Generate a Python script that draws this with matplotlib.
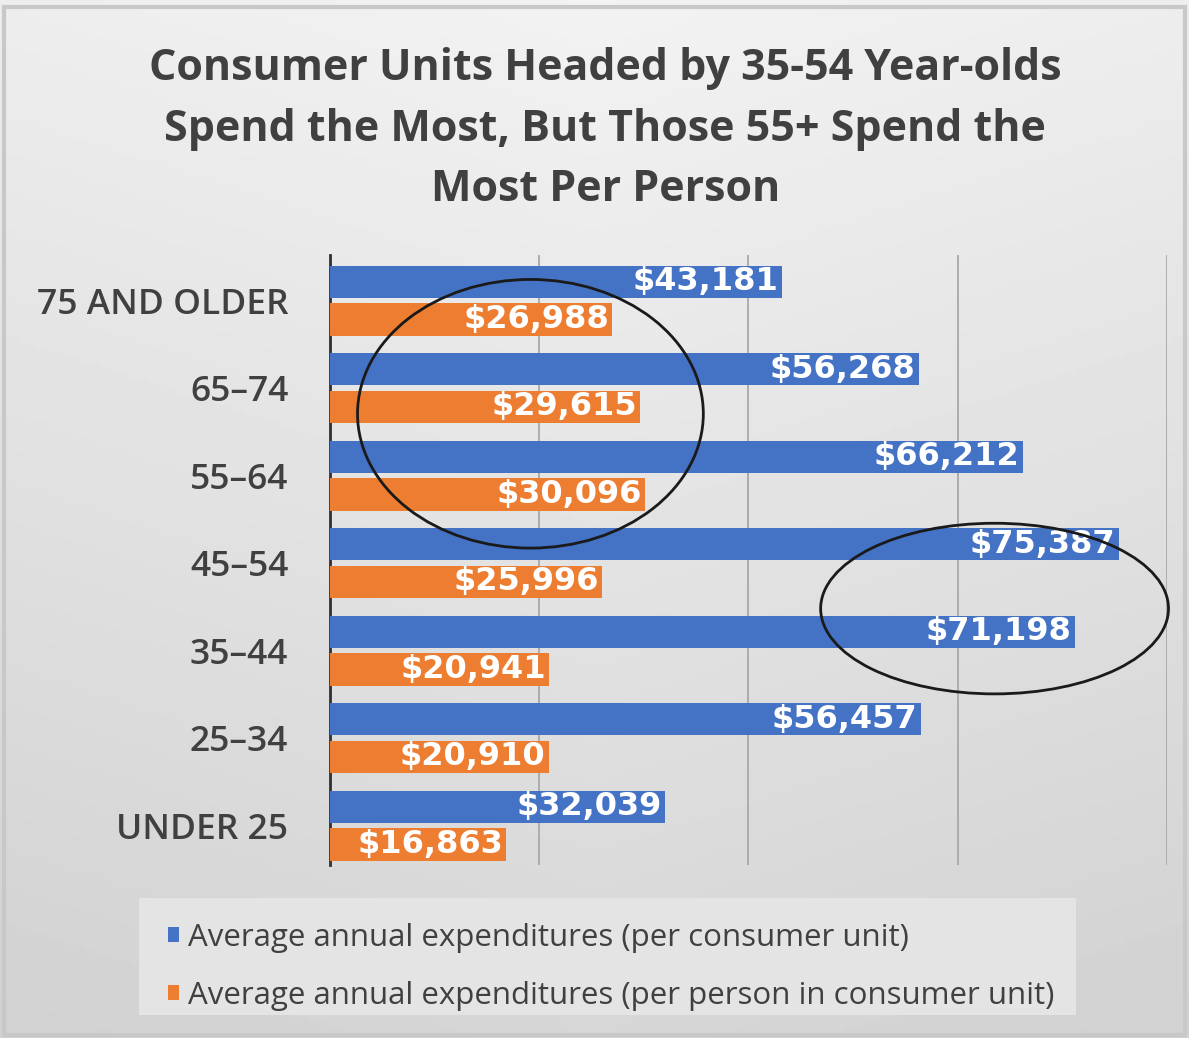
import numpy as np
import matplotlib
matplotlib.use("Agg")
import matplotlib.pyplot as plt
from matplotlib.patches import Ellipse, Rectangle

categories = ["UNDER 25", "25\u201334", "35\u201344", "45\u201354", "55\u201364", "65\u201374", "75 AND OLDER"]
per_unit = [32039, 56457, 71198, 75387, 66212, 56268, 43181]
per_person = [16863, 20910, 20941, 25996, 30096, 29615, 26988]
series_names = ["Average annual expenditures (per consumer unit)",
                "Average annual expenditures (per person in consumer unit)"]
title = "Consumer Units Headed by 35-54 Year-olds\nSpend the Most, But Those 55+ Spend the\nMost Per Person"

BLUE = "#4472C4"
ORANGE = "#ED7D31"
TXT = "#404040"
FONT = "Open Sans"

fig = plt.figure(figsize=(11.89, 10.38), dpi=100)

# background gradient
bg = fig.add_axes([0, 0, 1, 1], zorder=-10)
yy = np.linspace(0, 1, 200)[:, None]
xx = np.linspace(0, 1, 200)[None, :]
val = 0.95 - 0.11 * yy - 0.04 * np.abs(xx - 0.5)
bg.imshow(val, cmap="gray", vmin=0, vmax=1, aspect="auto", extent=[0, 1, 0, 1], origin="upper")
bg.set_xlim(0, 1); bg.set_ylim(0, 1)
bg.axis("off")
bg.add_patch(Rectangle((0.003, 0.003), 0.994, 0.99, facecolor="none", edgecolor="#c8c8c8", linewidth=3))
bg.add_patch(Rectangle((0.117, 0.022), 0.788, 0.113, facecolor="#e4e4e4", edgecolor="none"))

ax = fig.add_axes([0.2775, 0.1667, 0.7040, 0.5876])
ax.set_facecolor("none")
y = np.arange(len(categories))
h = 0.37
ax.barh(y + 0.215, per_unit, height=h, color=BLUE, label=series_names[0], zorder=3)
ax.barh(y - 0.215, per_person, height=h, color=ORANGE, label=series_names[1], zorder=3)

for i in range(len(categories)):
    ax.text(per_unit[i] - 300, y[i] + 0.215, f"${per_unit[i]:,}", ha="right", va="center",
            color="white", fontsize=23, fontweight="bold", family="DejaVu Sans", zorder=4)
    ax.text(per_person[i] - 300, y[i] - 0.215, f"${per_person[i]:,}", ha="right", va="center",
            color="white", fontsize=23, fontweight="bold", family="DejaVu Sans", zorder=4)

ax.set_xlim(0, 80000)
ax.set_ylim(-0.45, 6.52)
ax.set_xticks([0, 20000, 40000, 60000, 80000])
ax.set_xticklabels([])
ax.tick_params(axis="x", length=0)
ax.grid(axis="x", color="#a8a8a8", linewidth=1.3, zorder=0)
ax.set_yticks(y)
ax.set_yticklabels(categories, fontsize=25.5, color=TXT, family=FONT, fontweight="semibold")
ax.tick_params(axis="y", length=0, pad=30)
for s in ["top", "right", "bottom"]:
    ax.spines[s].set_visible(False)
ax.spines["left"].set_color("#303030")
ax.spines["left"].set_linewidth(2)

ax.add_patch(Ellipse((19160, 4.706), 33050, 3.07, fill=False, edgecolor="#1a1a1a", linewidth=2, zorder=5, clip_on=False))
ax.add_patch(Ellipse((63520, 2.48), 33245, 1.95, fill=False, edgecolor="#1a1a1a", linewidth=2, zorder=5, clip_on=False))

fig.text(0.509, 0.8757, title, ha="center", va="center", fontsize=31, fontweight="bold",
         color=TXT, family=FONT, linespacing=1.52)

leg = fig.legend(loc="upper left", bbox_to_anchor=(0.141, 0.111), frameon=False,
                 prop={"family": FONT, "size": 22.5}, handlelength=0.35, handleheight=0.35,
                 handletextpad=0.3, labelspacing=0.9, borderaxespad=0, borderpad=0)
for t in leg.get_texts():
    t.set_color(TXT)

fig.savefig("out.png", dpi=100)
